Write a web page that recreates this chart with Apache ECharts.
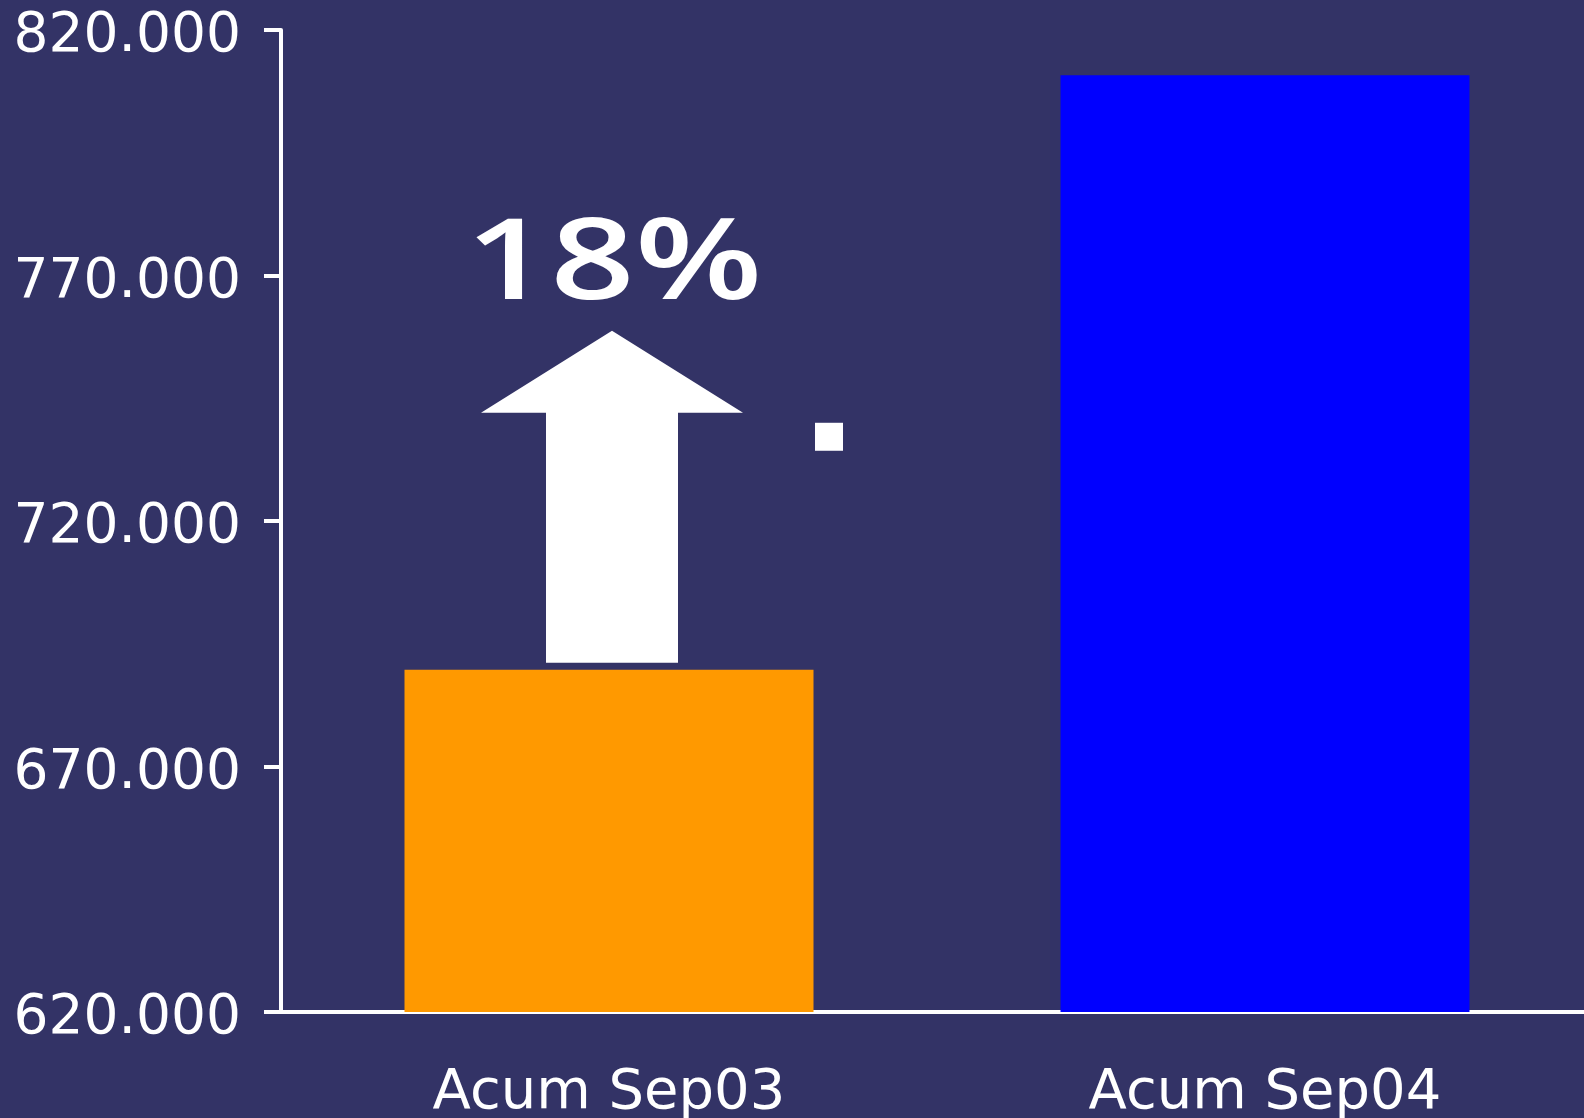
<!DOCTYPE html>
<html>
<head>
<meta charset="utf-8">
<script src="https://cdn.jsdelivr.net/npm/echarts@6/dist/echarts.min.js"></script>
<style>
html,body{margin:0;padding:0;background:#333366;}
#c{width:1584px;height:1118px;}
</style>
</head>
<body>
<div id="c"></div>
<script>
const categories = ['Acum Sep03', 'Acum Sep04'];
const values = [689700, 810800];
const barColors = ['#FF9900', '#0000FF'];
const yTicks = { min: 620000, max: 820000, interval: 50000 };
const growthLabel = '18%';

const chart = echarts.init(document.getElementById('c'), null, { renderer: 'canvas' });
const option = {
  backgroundColor: '#333366',
  animation: false,
  grid: { left: 281, top: 30, width: 1312, height: 982, containLabel: false, outerBoundsMode: 'none' },
  xAxis: {
    type: 'category',
    data: categories,
    axisLine: { show: true, lineStyle: { color: '#ffffff', width: 4 } },
    axisTick: { show: false },
    axisLabel: {
      color: '#ffffff',
      fontFamily: 'DejaVu Sans',
      fontSize: 56,
      margin: 53
    }
  },
  yAxis: {
    type: 'value',
    min: yTicks.min,
    max: yTicks.max,
    interval: yTicks.interval,
    splitLine: { show: false },
    axisLine: { show: true, lineStyle: { color: '#ffffff', width: 4 } },
    axisTick: { show: true, length: 17, lineStyle: { color: '#ffffff', width: 4 } },
    axisLabel: {
      color: '#ffffff',
      fontFamily: 'DejaVu Sans',
      fontSize: 55,
      margin: 40,
      formatter: function (v) { return '{a|' + Math.round(v / 1000) + '.000}'; },
      rich: {
        a: { color: '#ffffff', fontFamily: 'DejaVu Sans', fontSize: 55, padding: [14, 0, 0, 0] }
      }
    }
  },
  series: [{
    type: 'bar',
    barWidth: 409,
    data: values.map(function (v, i) { return { value: v, itemStyle: { color: barColors[i] } }; })
  }]
};
chart.setOption(option);

// Annotation (arrow, growth label, small square) anchored on the first bar
const anchor = chart.convertToPixel({ seriesIndex: 0 }, [0, values[0]]);
const cx = anchor[0] + 3;
const by = anchor[1];
chart.setOption({
  graphic: [
    {
      type: 'polygon',
      shape: {
        points: [
          [cx - 66, by - 7], [cx + 66, by - 7], [cx + 66, by - 257],
          [cx + 131, by - 257], [cx, by - 339], [cx - 131, by - 257],
          [cx - 66, by - 257]
        ]
      },
      style: { fill: '#ffffff' }
    },
    {
      type: 'text',
      x: cx + 2,
      y: by - 403,
      scaleX: 1.32,
      style: {
        text: growthLabel,
        fill: '#ffffff',
        font: '600 112px "Open Sans"',
        align: 'center',
        verticalAlign: 'middle'
      }
    },
    {
      type: 'rect',
      shape: { x: cx + 203, y: by - 247, width: 28, height: 28 },
      style: { fill: '#ffffff' }
    }
  ]
});
</script>
</body>
</html>
